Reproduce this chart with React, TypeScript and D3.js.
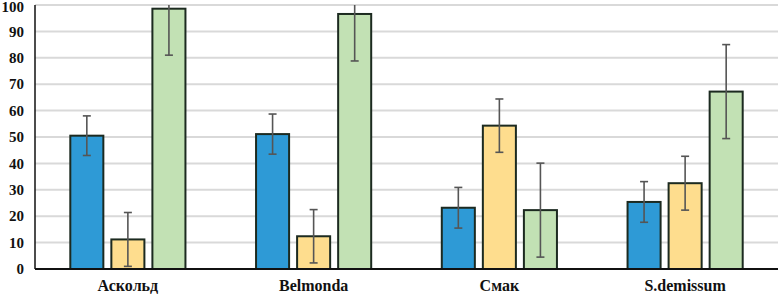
import React from "react";
import * as d3 from "d3";

const categories = ["Аскольд", "Belmonda", "Смак", "S.demissum"];
const seriesNames = ["s1", "s2", "s3"];
const series1 = [50.5, 51.1, 23.2, 25.4];
const series2 = [11.2, 12.4, 54.3, 32.5];
const series3 = [98.6, 96.6, 22.3, 67.2];
const errors1 = [7.5, 7.6, 7.7, 7.7];
const errors2 = [10.2, 10.1, 10.1, 10.2];
const errors3 = [17.6, 17.8, 17.8, 17.8];
const yTicks = [0, 10, 20, 30, 40, 50, 60, 70, 80, 90, 100];

const colors = ["#2e9ad6", "#fedd8e", "#c2e1b4"];

const W = 778;
const H = 294;
const left = 35;
const right = 778;
const top = 5;
const bottom = 269;

export default function App() {
  const values = [series1, series2, series3];
  const errs = [errors1, errors2, errors3];
  const y = d3.scaleLinear().domain([0, 100]).range([bottom, top]);
  const x0 = d3.scaleBand<string>().domain(categories).range([left, right]).padding(0);
  const x1 = d3
    .scaleBand<string>()
    .domain(seriesNames)
    .range([0, x0.bandwidth()])
    .paddingInner(0.195)
    .paddingOuter(0.86);
  const bw = x1.bandwidth();
  const textStyle = {
    fontFamily: '"Times New Roman", Tinos, "Liberation Serif", "DejaVu Serif", serif',
    fontWeight: 700,
  } as React.CSSProperties;
  return (
    <svg
      width={W}
      height={H}
      style={{ position: "absolute", left: 0, top: 0, background: "#fff" }}
    >
      <defs>
        <clipPath id="plot">
          <rect x={0} y={top} width={W} height={bottom - top + 5} />
        </clipPath>
      </defs>
      {yTicks.map((t) => (
        <g key={t}>
          {t > 0 && (
            <line x1={left} x2={right} y1={y(t)} y2={y(t)} stroke="#d9d9d9" strokeWidth={2} />
          )}
          <text
            x={24}
            y={Math.max(y(t), 7)}
            dy="0.35em"
            textAnchor="end"
            style={{ ...textStyle, fontSize: 15 }}
            fill="#111"
          >
            {t}
          </text>
        </g>
      ))}
      {categories.map((c, ci) =>
        seriesNames.map((s, si) => {
          const v = values[si][ci];
          const e = errs[si][ci];
          const bx = (x0(c) as number) + (x1(s) as number);
          const cx = bx + bw / 2;
          return (
            <g key={c + s}>
              <rect
                x={bx}
                y={y(v)}
                width={bw}
                height={y(0) - y(v)}
                fill={colors[si]}
                stroke="#1c2a20"
                strokeWidth={2}
              />
              <g clipPath="url(#plot)" stroke="#555" strokeWidth={1.6}>
                <line x1={cx} x2={cx} y1={y(v + e)} y2={y(v - e)} />
                <line x1={cx - 4} x2={cx + 4} y1={y(v + e)} y2={y(v + e)} />
                <line x1={cx - 4} x2={cx + 4} y1={y(v - e)} y2={y(v - e)} />
              </g>
            </g>
          );
        })
      )}
      <line x1={left} x2={left} y1={top} y2={bottom} stroke="#111" strokeWidth={1.5} />
      <line x1={left} x2={right} y1={bottom} y2={bottom} stroke="#111" strokeWidth={2} />
      {categories.map((c) => (
        <text
          key={c}
          x={(x0(c) as number) + x0.bandwidth() / 2}
          y={291}
          textAnchor="middle"
          style={{ ...textStyle, fontSize: 16 }}
          fill="#111"
        >
          {c}
        </text>
      ))}
    </svg>
  );
}
